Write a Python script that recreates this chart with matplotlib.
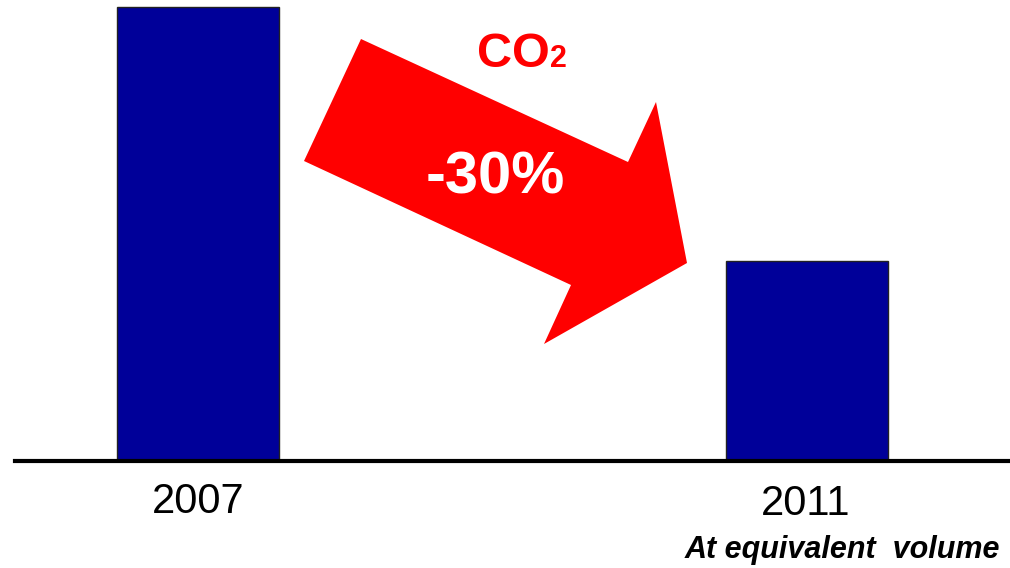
import matplotlib.pyplot as plt
from matplotlib.patches import Polygon

plt.rcParams['font.family'] = ['Liberation Sans', 'DejaVu Sans']

years = ['2007', '2011']
co2 = [100, 44]          # relative CO2
change_label = '-30%'
note = 'At equivalent  volume'

fig = plt.figure(figsize=(10.1, 5.68), dpi=100)

# bar axes: baseline at y=461px, bar centres at x=198 and 807 px
ax = fig.add_axes([0, (568 - 461) / 568, 1, 461 / 568])
x = range(len(years))
ax.bar(x, co2, width=162 / 609, color='#000099', edgecolor='#222222', linewidth=1)
ax.set_xlim(-198 / 609, (1010 - 198) / 609)
ax.set_ylim(0, 100 * 461 / 454)
ax.axhline(0, xmin=15 / 1010, xmax=1, color='black', linewidth=3, clip_on=False)
ax.axis('off')

# overlay in pixel coordinates for the arrow and labels
ov = fig.add_axes([0, 0, 1, 1], zorder=3)
ov.set_xlim(0, 1010)
ov.set_ylim(568, 0)
ov.axis('off')

arrow = Polygon([(361, 39), (304, 161), (571, 285), (544, 344),
                 (687, 263), (656, 102), (628, 162)],
                closed=True, facecolor='#ff0000', edgecolor='none')
ov.add_patch(arrow)

ov.text(477, 67, 'CO', color='#ff0000', fontsize=35, fontweight='bold',
        ha='left', va='baseline')
ov.text(550, 67, '2', color='#ff0000', fontsize=22, fontweight='bold',
        ha='left', va='baseline')
ov.text(495, 193, change_label, color='white', fontsize=43, fontweight='bold',
        ha='center', va='baseline')

ov.text(198, 513, years[0], fontsize=30, ha='center', va='baseline')
ov.text(806, 515, years[1], fontsize=30, ha='center', va='baseline')
ov.text(1000, 558, note, fontsize=22, fontweight='bold', fontstyle='italic',
        ha='right', va='baseline')

fig.savefig('out.png', dpi=100)
